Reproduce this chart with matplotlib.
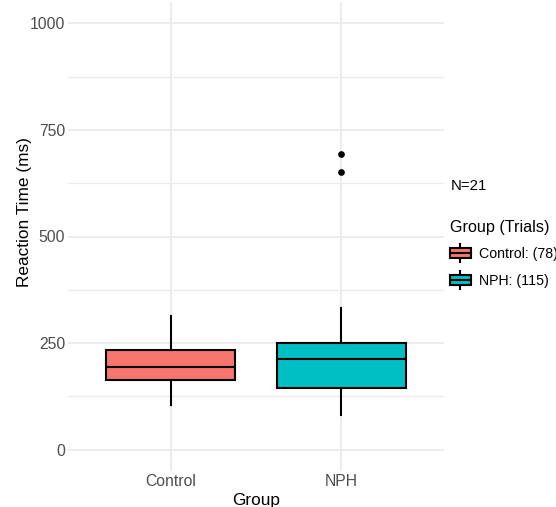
import matplotlib
matplotlib.use("Agg")
import matplotlib.pyplot as plt
from matplotlib.legend_handler import HandlerBase
from matplotlib.patches import Rectangle, Patch
from matplotlib.lines import Line2D

plt.rcParams['font.family'] = ['Liberation Sans', 'DejaVu Sans']

# --- data ---
groups = ["Control", "NPH"]
trials = [78, 115]
n_subjects = 21
q1 = [164, 145]
med = [194, 212]
q3 = [233, 251]
whislo = [105, 81]
whishi = [314, 332]
fliers = [[], [693, 651]]
colors = ["#F8766D", "#00BFC4"]


class BoxKeyHandler(HandlerBase):
    # draws a little ggplot-style boxplot glyph for the legend key
    def create_artists(self, legend, orig_handle, xdescent, ydescent,
                       width, height, fontsize, trans):
        x0, y0 = -xdescent, -ydescent
        bh = height * 0.55
        by = y0 + (height - bh) / 2
        cx = x0 + width / 2
        lw = 1.5
        arts = [
            Line2D([cx, cx], [y0, by], color="black", lw=lw),
            Line2D([cx, cx], [by + bh, y0 + height], color="black", lw=lw),
            Rectangle((x0, by), width, bh, facecolor=orig_handle.get_facecolor(),
                      edgecolor="black", lw=lw),
            Line2D([x0, x0 + width], [by + bh / 2, by + bh / 2], color="black", lw=lw),
        ]
        for a in arts:
            a.set_transform(trans)
        return arts


fig = plt.figure(figsize=(5.56, 5.07), dpi=100)
ax = fig.add_axes([68 / 556, 36 / 507, 376 / 556, 469 / 507])

stats = []
for i, g in enumerate(groups):
    stats.append({"label": g, "q1": q1[i], "med": med[i], "q3": q3[i],
                  "whislo": whislo[i], "whishi": whishi[i], "fliers": fliers[i]})

bp = ax.bxp(stats, positions=[1, 2], widths=0.75, patch_artist=True,
            showcaps=False, zorder=3,
            boxprops=dict(edgecolor="black", linewidth=1.5),
            medianprops=dict(color="black", linewidth=1.5),
            whiskerprops=dict(color="black", linewidth=1.5),
            flierprops=dict(marker="o", markerfacecolor="black", markeredgecolor="black",
                            markersize=3.8))
for patch, c in zip(bp["boxes"], colors):
    patch.set_facecolor(c)

ax.set_xlim(0.4, 2.6)
ax.set_ylim(-50, 1050)
ax.set_yticks([0, 250, 500, 750, 1000])
ax.set_yticks([125, 375, 625, 875], minor=True)
ax.set_xticks([1, 2])
ax.set_xticklabels(groups)

ax.grid(True, which="major", color="#EBEBEB", linewidth=1.3, zorder=0)
ax.grid(True, which="minor", axis="y", color="#EBEBEB", linewidth=0.9, zorder=0)
ax.set_axisbelow(True)
for s in ax.spines.values():
    s.set_visible(False)
ax.tick_params(which="both", length=0)
ax.tick_params(axis="both", labelsize=11.3, labelcolor="#4D4D4D", pad=2)

ax.set_xlabel("Group", fontsize=12.4, labelpad=3)
ax.set_ylabel("Reaction Time (ms)", fontsize=12.4)
ax.yaxis.set_label_coords(-0.097, 0.553)

# legend
fig.text(451 / 556, 1 - 186 / 507, f"N={n_subjects}", fontsize=10.8, va="center", ha="left")
handles = [Patch(facecolor=c) for c in colors]
labels = [f"{g}: ({t})" for g, t in zip(groups, trials)]
leg = fig.legend(handles, labels, title="Group (Trials)", loc="upper left",
                 bbox_to_anchor=(450 / 556, 1 - 220 / 507), frameon=False,
                 fontsize=10.2, title_fontsize=11.6, borderpad=0, borderaxespad=0,
                 handlelength=1.45, handleheight=1.6, handletextpad=0.6,
                 labelspacing=0.62, alignment="left",
                 handler_map={Patch: BoxKeyHandler()})

fig.savefig("out.png", dpi=100)
